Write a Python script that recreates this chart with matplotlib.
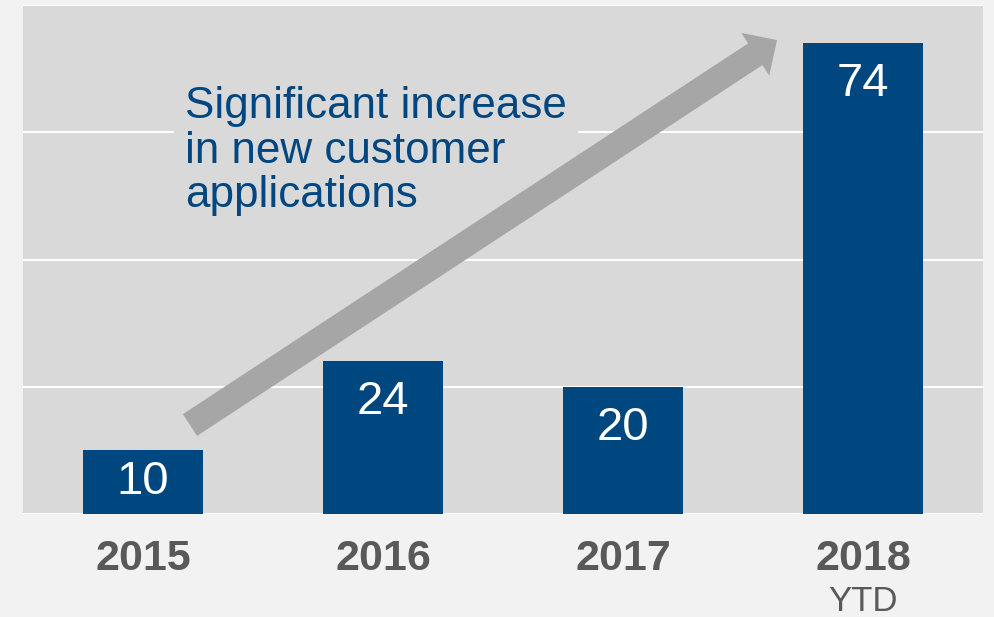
import matplotlib
matplotlib.use("Agg")
import matplotlib.pyplot as plt
import matplotlib.patches as mpatches
from matplotlib.transforms import IdentityTransform, blended_transform_factory

YEARS = ["2015", "2016", "2017", "2018"]
APPS = [10, 24, 20, 74]
NOTE = "Significant increase\nin new customer\napplications"

BAR_C = "#00467f"
plt.rcParams["font.family"] = ["Liberation Sans", "DejaVu Sans"]

fig = plt.figure(figsize=(9.95, 6.17), dpi=100, facecolor="#f2f2f2")
ax = fig.add_axes([23 / 995, 103 / 617, 960 / 995, 509 / 617])
ax.set_facecolor("#d9d9d9")

x = range(len(YEARS))
bars = ax.bar(x, APPS, width=0.5, color=BAR_C, zorder=2)
for b, v in zip(bars, APPS):
    # label sits near the top, or mid-bar when the bar is short
    ax.text(b.get_x() + b.get_width() / 2, max(v - 6.45, v / 2), str(v),
            ha="center", va="center", color="white", fontsize=34, zorder=4)

ax.set_xlim(-0.5, 3.5)
ax.set_ylim(0, 80)
ax.set_yticks([0, 20, 40, 60, 80])
ax.yaxis.grid(True, color="white", lw=1.5, zorder=0.5)
ax.set_axisbelow(True)
ax.tick_params(length=0, labelleft=False)
ax.set_xticks(list(x))
ax.set_xticklabels(YEARS, fontsize=31, fontweight="bold", color="#595959")
ax.tick_params(axis="x", pad=18)
for s in ax.spines.values():
    s.set_visible(False)

trans = blended_transform_factory(ax.transData, ax.transAxes)
ax.text(3, -0.171, "YTD", transform=trans, ha="center", va="center",
        fontsize=25, color="#595959")

# note with a box in the plot colour, so it hides the grid line
ax.text(185 / 995, 531 / 617, NOTE, transform=fig.transFigure, ha="left", va="top",
        fontsize=31.7, color="#004680", linespacing=1.11, zorder=1,
        bbox=dict(facecolor="#d9d9d9", edgecolor="none", pad=8))

# big grey arrow, in pixels
arrow = mpatches.FancyArrow(190, 617 - 425, 587, 385, width=26, head_width=51,
                            head_length=26, length_includes_head=True,
                            color="#a6a6a6", lw=0, transform=IdentityTransform(), zorder=3)
ax.add_patch(arrow)

fig.savefig("out.png", dpi=100, facecolor=fig.get_facecolor())
